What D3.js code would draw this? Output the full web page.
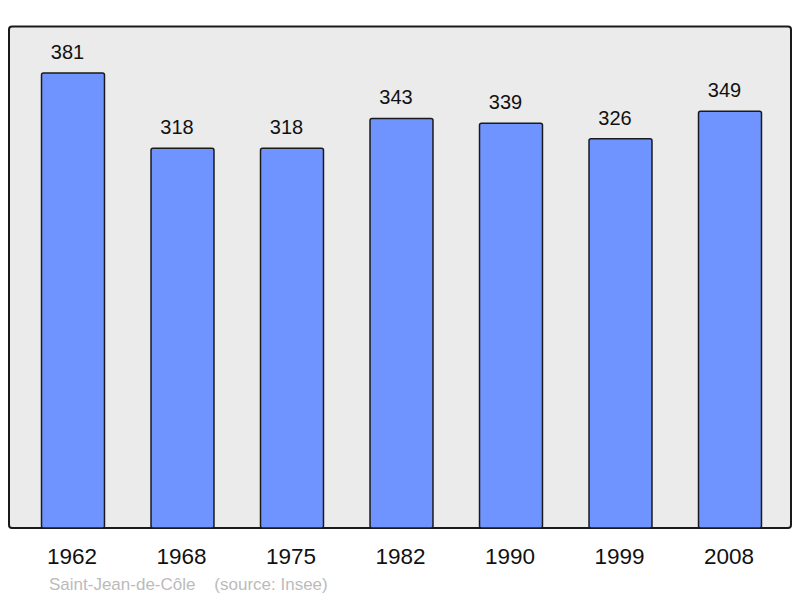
<!DOCTYPE html>
<html>
<head>
<meta charset="utf-8">
<script src="https://cdn.jsdelivr.net/npm/d3@7"></script>
<style>
  body { margin: 0; background: #fff; }
  text { font-family: "Liberation Sans", Arial, sans-serif; }
</style>
</head>
<body>
<script>
//population data
var years = ["1962", "1968", "1975", "1982", "1990", "1999", "2008"];
var population = [381, 318, 318, 343, 339, 326, 349];
var commune = "Saint-Jean-de-Côle";
var source = "(source: Insee)";

var svg = d3.select("body")
  .append("svg")
  .attr("width", 800)
  .attr("height", 598);

//grey frame
svg.append("rect")
  .attr("x", 9)
  .attr("y", 26.5)
  .attr("width", 782)
  .attr("height", 501.5)
  .attr("rx", 3)
  .style("fill", "#ebebeb")
  .style("stroke", "#1a1a1a")
  .style("stroke-width", 2);

var x = d3.scaleBand()
  .domain(years)
  .range([18.25, 784.75])
  .paddingInner(0.425)
  .paddingOuter(0.2125);

var y = d3.scaleLinear()
  .domain([0, 420])
  .range([528, 26.5]);

var data = years.map(function(d, i){
  return {year: d, pop: population[i]};
});

//bars
svg.selectAll(".bar")
  .data(data)
  .enter()
  .append("rect")
  .attr("class", "bar")
  .attr("x", function(d){ return x(d.year); })
  .attr("y", function(d){ return y(d.pop); })
  .attr("width", x.bandwidth())
  .attr("height", function(d){ return y(0) - y(d.pop); })
  .attr("rx", 2)
  .style("fill", "#7094ff")
  .style("stroke", "#1a1a1a")
  .style("stroke-width", 1.5);

//value labels (sit a little left of the bar centre)
svg.selectAll(".val")
  .data(data)
  .enter()
  .append("text")
  .attr("class", "val")
  .attr("text-anchor", "middle")
  .attr("x", function(d){ return x(d.year) + x.bandwidth() / 2 - 5.5; })
  .attr("y", function(d){ return y(d.pop) - 14; })
  .style("font-size", "20px")
  .style("fill", "#111")
  .text(function(d){ return d.pop; });

//year labels
svg.selectAll(".year")
  .data(data)
  .enter()
  .append("text")
  .attr("class", "year")
  .attr("text-anchor", "middle")
  .attr("x", function(d){ return x(d.year) + x.bandwidth() / 2 - 1; })
  .attr("y", 564)
  .style("font-size", "22.5px")
  .style("fill", "#111")
  .text(function(d){ return d.year; });

//footer
svg.append("text")
  .attr("x", 49)
  .attr("y", 590)
  .style("font-size", "17px")
  .style("fill", "#bbbbbb")
  .style("white-space", "pre")
  .text(commune + "    " + source);
</script>
</body>
</html>
